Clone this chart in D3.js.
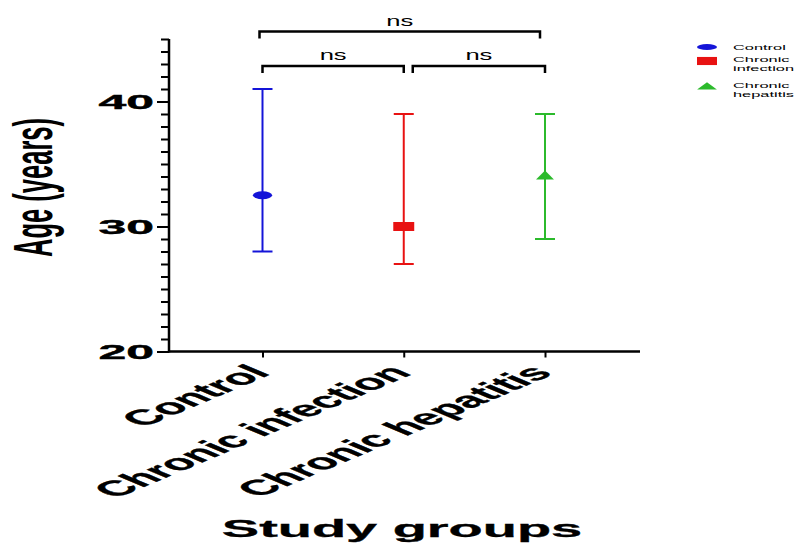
<!DOCTYPE html>
<html>
<head>
<meta charset="utf-8">
<script src="https://cdn.jsdelivr.net/npm/d3@7"></script>
<style>
  body { margin: 0; background: #fff; }
  text { font-family: "Liberation Sans", Arial, sans-serif; }
</style>
</head>
<body>
<script>
// data
let groups = ["Control", "Chronic infection", "Chronic hepatitis"]
let means = [32.5, 30, 34]
let lows = [28, 27, 29]
let highs = [41, 39, 39]
let colors = ["#1414d8", "#e81212", "#2cba2c"]
let shapes = ["circle", "square", "triangle"]
let legendLines = [["Control"], ["Chronic", "infection"], ["Chronic", "hepatitis"]]
let majorTicks = [20, 30, 40]
let comparisons = [["Control", "Chronic infection", 0], ["Chronic infection", "Chronic hepatitis", 0], ["Control", "Chronic hepatitis", 1]]
let compLabels = ["ns", "ns", "ns"]

let width = 804
let height = 544
let stretch = 2.38 // picture is stretched horizontally

let svg = d3.select("body").append("svg")
    .attr("width", width)
    .attr("height", height)

let y = d3.scaleLinear().domain([20, 45]).range([351.5, 39])
let x = d3.scalePoint().domain(groups).range([262.5, 545])
let axisLeftX = 169
let axisRightX = 640

// y axis: minor ticks + major ticks
svg.append("g")
    .attr("transform", "translate(" + axisLeftX + ",0)")
    .call(d3.axisLeft(y).tickValues(d3.range(20, 46, 1)).tickSize(8).tickFormat(""))
    .call(g => g.select(".domain").remove())
    .selectAll("line").attr("stroke", "#000").attr("stroke-width", 2)

let yMajor = svg.append("g")
    .attr("transform", "translate(" + axisLeftX + ",0)")
    .call(d3.axisLeft(y).tickValues(majorTicks).tickSize(12).tickFormat(""))
yMajor.select(".domain").remove()
yMajor.selectAll("line").attr("stroke", "#000").attr("stroke-width", 2)

//tick labels, stretched
svg.selectAll("text.ylab")
    .data(majorTicks)
    .enter()
    .append("text")
    .attr("class", "ylab")
    .attr("transform", d => "translate(154," + (y(d) + 7.5) + ") scale(" + stretch + ",1)")
    .attr("text-anchor", "end")
    .attr("font-size", 21)
    .attr("font-weight", "bold")
    .attr("stroke", "#000")
    .attr("stroke-width", 0.4)
    .text(d => d)

// axis lines
svg.append("line")
    .attr("x1", axisLeftX).attr("x2", axisLeftX)
    .attr("y1", y(45)).attr("y2", y(20) + 1)
    .attr("stroke", "#000").attr("stroke-width", 2.5)
svg.append("line")
    .attr("x1", axisLeftX).attr("x2", axisRightX)
    .attr("y1", y(20)).attr("y2", y(20))
    .attr("stroke", "#000").attr("stroke-width", 2.5)

// x axis ticks
let xAxis = svg.append("g")
    .attr("transform", "translate(0," + y(20) + ")")
    .call(d3.axisBottom(x).tickSize(6).tickFormat(""))
xAxis.select(".domain").remove()
xAxis.selectAll("line").attr("stroke", "#000").attr("stroke-width", 2)

// x labels, rotated then stretched
svg.selectAll("text.xlab")
    .data(groups)
    .enter()
    .append("text")
    .attr("class", "xlab")
    .attr("transform", d => "translate(" + (x(d) + 9) + ",374) scale(" + stretch + ",1) rotate(-45)")
    .attr("text-anchor", "end")
    .attr("font-size", 21.5)
    .attr("font-weight", "bold")
    .attr("stroke", "#000")
    .attr("stroke-width", 0.3)
    .text(d => d)

// axis titles
svg.append("text")
    .attr("transform", "translate(52,187.5) scale(" + stretch + ",1) rotate(-90)")
    .attr("text-anchor", "middle")
    .attr("font-size", 23)
    .attr("font-weight", "bold")
    .attr("textLength", 139)
    .attr("lengthAdjust", "spacingAndGlyphs")
    .text("Age (years)")

svg.append("text")
    .attr("transform", "translate(402,537) scale(" + stretch + ",1)")
    .attr("text-anchor", "middle")
    .attr("font-size", 23.5)
    .attr("font-weight", "bold")
    .attr("stroke", "#000")
    .attr("stroke-width", 0.3)
    .text("Study groups")

// error bars
let data = groups.map((g, i) => ({group: g, mean: means[i], low: lows[i], high: highs[i], color: colors[i], shape: shapes[i]}))

let bars = svg.selectAll("g.bar")
    .data(data)
    .enter()
    .append("g")
    .attr("class", "bar")
    .attr("stroke", d => d.color)
    .attr("stroke-width", 2)

bars.append("line")
    .attr("x1", d => x(d.group)).attr("x2", d => x(d.group))
    .attr("y1", d => y(d.low)).attr("y2", d => y(d.high))
bars.append("line")
    .attr("x1", d => x(d.group) - 10).attr("x2", d => x(d.group) + 10)
    .attr("y1", d => y(d.high)).attr("y2", d => y(d.high))
bars.append("line")
    .attr("x1", d => x(d.group) - 10).attr("x2", d => x(d.group) + 10)
    .attr("y1", d => y(d.low)).attr("y2", d => y(d.low))

// marker shapes, drawn then squashed like the picture
function markerPath(shape){
    if(shape == "circle") return d3.symbol(d3.symbolCircle, Math.PI * 16)()
    if(shape == "square") return d3.symbol(d3.symbolSquare, 81)()
    return d3.symbol(d3.symbolTriangle, 100)()
}
function markerScale(shape){
    if(shape == "circle") return "scale(2.4,1)"
    if(shape == "square") return "scale(2.33,1)"
    return "scale(1.18,0.68)"
}

svg.selectAll("path.marker")
    .data(data)
    .enter()
    .append("path")
    .attr("class", "marker")
    .attr("d", d => markerPath(d.shape))
    .attr("transform", d => "translate(" + x(d.group) + "," + y(d.mean) + ") " + markerScale(d.shape))
    .attr("fill", d => d.color)

// significance brackets
comparisons.forEach((c, i) => {
    let level = c[2]
    let x1 = x(c[0])
    let x2 = x(c[1])
    if(level == 0 && i > 0) x1 += 9 // gap between adjacent brackets
    if(level == 1){ x1 -= 3; x2 -= 5 }
    let by = level == 0 ? 66 : 31.5
    svg.append("path")
        .attr("d", "M" + x1 + "," + (by + 7) + "V" + by + "H" + x2 + "V" + (by + 7))
        .attr("fill", "none")
        .attr("stroke", "#000")
        .attr("stroke-width", 2.5)
    svg.append("text")
        .attr("x", (x1 + x2) / 2)
        .attr("y", by - 6)
        .attr("text-anchor", "middle")
        .attr("font-size", 15)
        .attr("textLength", 27)
        .attr("lengthAdjust", "spacingAndGlyphs")
        .text(compLabels[i])
})

// legend
let legendY = [47, 61, 87]
let legendShapeScale = ["scale(2.5,0.75)", "scale(2.22,0.9)", "scale(1.3,0.55)"]
let legend = svg.selectAll("g.legend")
    .data(data)
    .enter()
    .append("g")
    .attr("class", "legend")
    .attr("transform", (d, i) => "translate(707," + legendY[i] + ")")

legend.append("path")
    .attr("d", d => markerPath(d.shape))
    .attr("transform", (d, i) => legendShapeScale[i])
    .attr("fill", d => d.color)

legend.each(function(d, i){
    let lines = legendLines[i]
    d3.select(this).selectAll("text")
        .data(lines)
        .enter()
        .append("text")
        .attr("transform", (t, j) => "translate(26," + (lines.length == 1 ? 2.5 : 1 + j * 8.5) + ") scale(2.05,1)")
        .attr("font-size", 8)
        .text(t => t)
})
</script>
</body>
</html>
